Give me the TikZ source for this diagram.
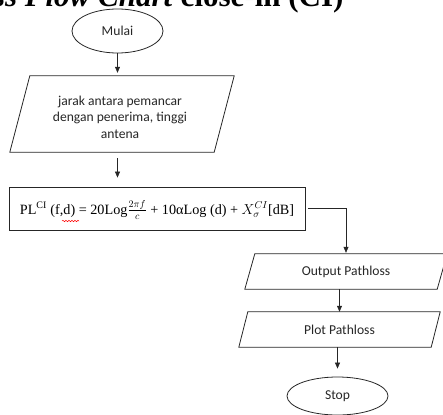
\documentclass[tikz,border=0pt]{standalone}
\usepackage{fontspec}
\setmainfont{Liberation Serif}
\newfontfamily\calib{Carlito}
\usetikzlibrary{arrows.meta,shapes.geometric,decorations.pathmorphing}

\begin{document}
\begin{tikzpicture}[x=1pt,y=-1pt,
  lbl/.style={font=\calib\fontsize{13.6}{16.5}\selectfont, text=black!85, align=center},
  term/.style={ellipse, draw=black!85, line width=0.8pt, lbl, inner sep=0pt},
  pbox/.style={draw=none, inner sep=0pt, lbl},
  outl/.style={draw=black!85, line width=0.8pt},
  arr/.style={draw=black!85, line width=0.6pt, -{Triangle[length=6pt,width=5pt]}},
]
\useasboundingbox (0,0) rectangle (443,414);
\clip (0,0) rectangle (443,414);
\node[anchor=base east, font=\bfseries\fontsize{31}{31}\selectfont] (title) at (347,7) {\textit{Pathloss Flow Chart} close-in (CI)};

\node[term, minimum width=91pt, minimum height=44pt] (mulai) at (117.5,31) {Mulai};

\node[pbox, minimum width=224pt, minimum height=76pt] (inp) at (122,114) {};
\draw[outl] ([xshift=20pt]inp.north west) -- (inp.north east) -- ([xshift=-20pt]inp.south east) -- (inp.south west) -- cycle;
\node[lbl] (inptxt) at (120,117) {jarak antara pemancar\\dengan penerima, tinggi\\antena};

\node[draw=black!85, line width=0.8pt, minimum width=296pt, minimum height=43pt, inner sep=0pt] (rumus) at (157,208.5) {};
\node[font=\fontsize{14.2}{16}\selectfont] (rumustxt) at (157,210) {PL\textsuperscript{CI} (f,d) = 20Log$\frac{2\pi f}{c}$ + 10αLog (d) + $X_\sigma^{CI}$[dB]};
\draw[red, line width=0.5pt, decorate, decoration={snake, amplitude=0.7pt, segment length=3pt}] (62,221) -- (79,221);

\node[pbox, minimum width=202pt, minimum height=35pt] (out) at (346,271.5) {Output Pathloss};
\draw[outl] ([xshift=10pt]out.north west) -- (out.north east) -- ([xshift=-10pt]out.south east) -- (out.south west) -- cycle;

\node[pbox, minimum width=201pt, minimum height=35pt] (plot) at (339.5,329.5) {Plot Pathloss};
\draw[outl] ([xshift=9pt]plot.north west) -- (plot.north east) -- ([xshift=-9pt]plot.south east) -- (plot.south west) -- cycle;

\node[term, minimum width=101pt, minimum height=38pt] (stop) at (337.5,396) {Stop};

\draw[arr, shorten >=3pt] (mulai.south) -- (mulai.south |- inp.north);
\draw[arr, shorten <=6pt, shorten >=9pt] (inp.south -| mulai) -- (rumus.north -| mulai);
\draw[arr, shorten <=3pt, shorten >=1pt] (rumus.east) -| (out.north);
\draw[arr] (out.south -| plot) -- (plot.north);
\draw[arr, shorten >=8pt] (plot.south -| stop) -- (stop.north);
\end{tikzpicture}
\end{document}
